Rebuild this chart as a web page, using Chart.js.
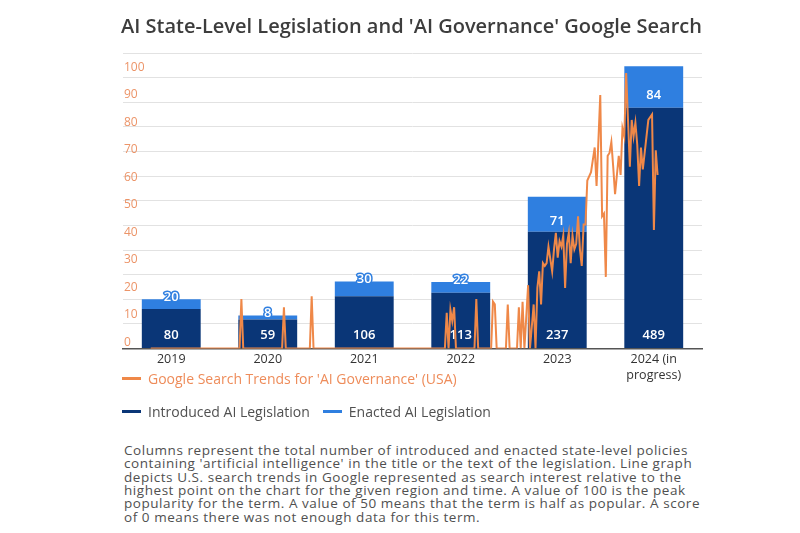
<!DOCTYPE html>
<html>
<head>
<meta charset="utf-8">
<script src="https://cdn.jsdelivr.net/npm/chart.js@4.4.1/dist/chart.umd.min.js"></script>
<style>
  body { margin: 0; background: #fff; }
  #wrap { position: relative; width: 800px; height: 533px; overflow: hidden; font-family: 'Open Sans', sans-serif; }
  #chart { position: absolute; left: 0; top: 0; }
  .row { position: absolute; left: 122px; height: 20px; display: flex; align-items: center; font-size: 14px; white-space: nowrap; }
  .item { display: flex; align-items: center; margin-right: 13px; }
  .swatch { width: 19px; height: 3px; margin-right: 7px; }
  #note { position: absolute; left: 124px; top: 444px; font-size: 13.5px; letter-spacing: 0.55px; line-height: 13.35px; color: #505050; white-space: nowrap; }
</style>
</head>
<body>
<div id="wrap">
  <canvas id="chart" width="800" height="400"></canvas>
  <div class="row" id="legendTop" style="top:368px"></div>
  <div class="row" id="legendBottom" style="top:401px"></div>
  <div id="note">Columns represent the total number of introduced and enacted state-level policies<br>containing 'artificial intelligence' in the title or the text of the legislation. Line graph<br>depicts U.S. search trends in Google represented as search interest relative to the<br>highest point on the chart for the given region and time. A value of 100 is the peak<br>popularity for the term. A value of 50 means that the term is half as popular. A score<br>of 0 means there was not enough data for this term.</div>
</div>
<script>
// Legislación por año (columnas apiladas)
const years = ['2019', '2020', '2021', '2022', '2023', ['2024 (in', 'progress)']];
const introduced = [80, 59, 106, 113, 237, 489];
const enacted = [20, 8, 30, 22, 71, 84];

// Google Trends semanal: semana contada desde enero 2019, valor 0-100
const trendWeeks = [15, 63, 64, 65, 86, 87, 88, 101, 102, 103,
  174, 175, 176, 177, 178, 179, 180, 190, 191, 192,
  199, 200, 201, 202, 207, 208, 209,
  213, 214, 215, 216, 217, 219, 220, 222, 223, 224, 225, 226, 227, 228, 229, 230,
  232, 233, 234, 235, 236, 237, 238, 239, 240, 241, 242, 243, 244, 245, 246, 247,
  248, 249, 250, 251, 253, 255, 256, 258, 259, 260, 261, 262, 263, 264, 265, 266,
  268, 269, 270, 271, 272, 274, 275, 276, 277, 278, 279, 280, 281, 283, 284, 286,
  287, 288, 289];
const trendValues = [0, 0, 18, 0, 0, 15, 0, 0, 19, 0,
  0, 13, 0, 14, 10, 15, 0, 0, 18, 0,
  0, 17, 16, 0, 0, 16, 0,
  0, 15, 0, 17, 0, 23, 0, 16, 0, 22, 28, 16, 31, 30, 31, 37,
  28, 36, 42, 33, 39, 37, 41, 22, 38, 42, 31, 41, 36, 38, 48, 36,
  30, 45, 45, 61, 64, 73, 59, 92, 48, 49, 26, 70, 71, 75, 66, 56,
  70, 63, 80, 77, 100, 66, 83, 77, 82, 74, 59, 73, 65, 77, 83, 85,
  43, 72, 63];
const trendTicks = [0, 10, 20, 30, 40, 50, 60, 70, 80, 90, 100];

const navy = '#0A3677';
const blue = '#2F7FE0';
const orange = '#EF8848';

// Etiquetas de las columnas: introducidas abajo, promulgadas en el tramo azul
const barLabels = {
  id: 'barLabels',
  afterDatasetDraw(chart, args) {
    if (args.index === 0) return;
    const ctx = chart.ctx;
    const ds = chart.data.datasets[args.index];
    const base = chart.scales.y.getPixelForValue(0);
    ctx.save();
    ctx.font = '600 13px "Open Sans"';
    ctx.textAlign = 'center';
    ctx.textBaseline = 'middle';
    args.meta.data.forEach((bar, i) => {
      const text = String(ds.data[i]);
      if (args.index === 1) {
        ctx.fillStyle = '#fff';
        ctx.fillText(text, bar.x, base - 13);
      } else {
        const h = bar.base - bar.y;
        const y = h >= 25 ? bar.y + h * 0.7 : bar.y - 2;
        ctx.lineWidth = 3;
        ctx.lineJoin = 'round';
        ctx.strokeStyle = blue;
        ctx.strokeText(text, bar.x, y);
        ctx.fillStyle = '#fff';
        ctx.fillText(text, bar.x, y);
      }
    });
    ctx.restore();
  }
};

const chart = new Chart(document.getElementById('chart').getContext('2d'), {
  type: 'bar',
  data: {
    labels: years,
    datasets: [{
      type: 'line',
      label: "Google Search Trends for 'AI Governance' (USA)",
      data: trendWeeks.map((w, i) => ({ x: w, y: trendValues[i] })),
      xAxisID: 'xLine',
      yAxisID: 'yLine',
      borderColor: orange,
      borderWidth: 2,
      pointRadius: 0,
      tension: 0,
      order: 0
    }, {
      type: 'bar',
      label: 'Introduced AI Legislation',
      data: introduced,
      backgroundColor: navy,
      xAxisID: 'x',
      yAxisID: 'y',
      grouped: false,
      categoryPercentage: 1,
      barPercentage: 0.61,
      order: 1
    }, {
      type: 'bar',
      label: 'Enacted AI Legislation',
      data: enacted,
      backgroundColor: blue,
      xAxisID: 'x',
      yAxisID: 'y',
      grouped: false,
      categoryPercentage: 1,
      barPercentage: 0.61,
      order: 1
    }]
  },
  options: {
    responsive: false,
    animation: false,
    layout: { padding: { left: 121, right: 98, top: 0, bottom: 13 } },
    plugins: {
      legend: { display: false },
      tooltip: { enabled: false },
      title: {
        display: true,
        text: "AI State-Level Legislation and 'AI Governance' Google Search",
        color: '#3d3d3d',
        font: { family: 'Open Sans', size: 20, weight: '600' },
        padding: { top: 15, bottom: 14 }
      }
    },
    scales: {
      x: {
        stacked: true,
        grid: { display: false, drawTicks: false },
        border: { color: '#555', width: 1.5 },
        ticks: { color: '#333', font: { family: 'Open Sans', size: 12.5, lineHeight: 1.3 }, padding: 3, maxRotation: 0, autoSkip: false }
      },
      xLine: { type: 'linear', display: false, offset: false, min: 0, max: 313 },
      y: {
        stacked: true,
        min: 0,
        max: 600,
        ticks: { display: false, stepSize: 50 },
        grid: { color: '#e2e2e2', drawTicks: false },
        border: { display: false }
      },
      yLine: {
        type: 'linear',
        position: 'left',
        min: 0,
        max: 107.3,
        afterBuildTicks: (s) => { s.ticks = trendTicks.map(v => ({ value: v })); },
        grid: { display: false, drawTicks: false },
        border: { display: false },
        ticks: { mirror: true, align: 'end', padding: 1, color: '#EC9468', font: { family: 'Open Sans', size: 12 } }
      }
    }
  },
  plugins: [barLabels]
});

// Leyenda en HTML a partir de los datasets
function legendItem(ds, textColor) {
  const color = ds.type === 'line' ? ds.borderColor : ds.backgroundColor;
  return '<span class="item"><span class="swatch" style="background:' + color +
    '"></span><span style="color:' + textColor + '">' + ds.label + '</span></span>';
}
const sets = chart.data.datasets;
document.getElementById('legendTop').innerHTML = legendItem(sets[0], '#EE8C5A');
document.getElementById('legendBottom').innerHTML = legendItem(sets[1], '#505050') + legendItem(sets[2], '#505050');
</script>
</body>
</html>
